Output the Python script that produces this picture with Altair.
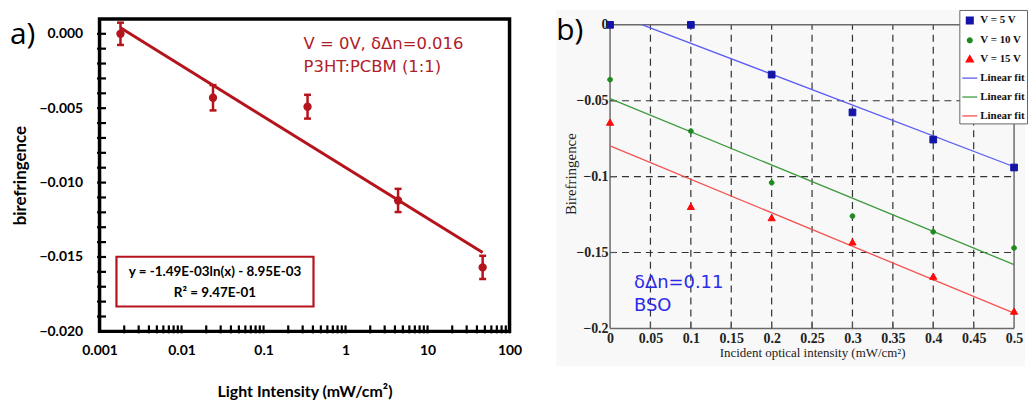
import altair as alt
import pandas as pd

# ---------------- panel a data ----------------
a_intensity = [0.0018, 0.0242, 0.344, 4.37, 47.0]
a_biref = [0.0000, -0.0043, -0.0049, -0.0112, -0.0157]
a_err = [0.00075, 0.00085, 0.0008, 0.00078, 0.00078]
a_fit_x = [0.0018, 47.0]
a_fit_y = [0.0004, -0.0147]
a_x_labels = [0.001, 0.01, 0.1, 1, 10, 100]
a_y_labels = [0.0, -0.005, -0.010, -0.015, -0.020]
a_x_minor = [m * d for d in [0.001, 0.01, 0.1, 1, 10] for m in range(2, 11)]
a_y_minor = [i / 1000 for i in range(-19, 1)]
a_note = ["V = 0V, δΔn=0.016", "P3HT:PCBM (1:1)"]
a_fit_text = ["y = -1.49E-03ln(x) - 8.95E-03", "R² = 9.47E-01"]

# ---------------- panel b data ----------------
b_intensity = [0, 0.1, 0.2, 0.3, 0.4, 0.5]
b_5v = [0.0, 0.0, -0.0328, -0.0577, -0.0756, -0.094]
b_10v = [-0.0361, -0.070, -0.104, -0.126, -0.1364, -0.147]
b_15v = [-0.0645, -0.120, -0.1274, -0.1434, -0.166, -0.189]
b_fit5_x = [0.04, 0.5]
b_fit5_y = [0.0, -0.0935]
b_fit10_x = [0.0, 0.5]
b_fit10_y = [-0.0486, -0.158]
b_fit15_x = [0.0, 0.5]
b_fit15_y = [-0.0797, -0.190]
b_series = ["V = 5 V", "V = 10 V", "V = 15 V"]
b_fit_series = ["fit 5 V", "fit 10 V", "fit 15 V"]
b_x_labels = [0, 0.05, 0.1, 0.15, 0.2, 0.25, 0.3, 0.35, 0.4, 0.45, 0.5]
b_y_labels = [0, -0.05, -0.1, -0.15, -0.2]
b_note = ["δΔn=0.11", "BSO"]

RED = "#B5141C"
RED_TXT = "#B0202A"
BLUE_TXT = "#2B2BE8"

# ================= panel a =================
WA, HA = 412, 314
xa_scale = alt.Scale(type="log", domain=[0.001, 100], nice=False)
ya_scale = alt.Scale(domain=[-0.020, 0.001], nice=False, zero=False)
xa_axis = alt.Axis(values=a_x_labels, format="~g", labelFlush=False, grid=False,
                   domain=False, ticks=False, tickSize=0, labelPadding=12,
                   labelFont="Lato", labelFontSize=14, labelFontWeight="bold",
                   labelColor="black", title="Light Intensity (mW/cm²)",
                   titleFont="Lato", titleFontSize=16, titleFontWeight="bold",
                   titleColor="black", titlePadding=26)
ya_axis = alt.Axis(values=a_y_labels, format=".3f", labelFlush=False, grid=False,
                   domain=False, ticks=False, tickSize=0, labelPadding=17,
                   labelFont="Lato", labelFontSize=14, labelFontWeight="bold",
                   labelColor="black", title="birefringence",
                   titleFont="Lato", titleFontSize=17, titleFontWeight="bold",
                   titleColor="black", titlePadding=9)


def xa(field="x"):
    return alt.X(f"{field}:Q", scale=xa_scale, axis=xa_axis)


def ya(field="y"):
    return alt.Y(f"{field}:Q", scale=ya_scale, axis=ya_axis)


pts_a = pd.DataFrame({"x": a_intensity, "y": a_biref, "e": a_err})
pts_a["lo"] = pts_a["y"] - pts_a["e"]
pts_a["hi"] = pts_a["y"] + pts_a["e"]
fit_a = pd.DataFrame({"x": a_fit_x, "y": a_fit_y})
minor_xa = pd.DataFrame({"x": a_x_minor})
minor_ya = pd.DataFrame({"y": a_y_minor})
one = pd.DataFrame({"k": [0]})

a_fit_line = alt.Chart(fit_a).mark_line(color=RED, strokeWidth=3).encode(x=xa(), y=ya())
a_err_rule = alt.Chart(pts_a).mark_rule(color=RED, strokeWidth=2.5).encode(
    x=xa(), y=ya("lo"), y2="hi:Q")
a_cap_lo = alt.Chart(pts_a).mark_tick(orient="horizontal", color=RED, size=7,
                                      thickness=2.5, opacity=1).encode(x=xa(), y=ya("lo"))
a_cap_hi = alt.Chart(pts_a).mark_tick(orient="horizontal", color=RED, size=7,
                                      thickness=2.5, opacity=1).encode(x=xa(), y=ya("hi"))
a_points = alt.Chart(pts_a).mark_circle(color=RED, size=70, opacity=1).encode(x=xa(), y=ya())
a_tick_y = alt.Chart(minor_ya).mark_tick(orient="horizontal", color="black", size=9,
                                         thickness=2.2, opacity=1).encode(
    y=ya(), x=alt.value(2))
a_tick_x = alt.Chart(minor_xa).mark_tick(orient="vertical", color="black", size=8,
                                         thickness=2.2, opacity=1).encode(
    x=xa(), y=alt.value(HA - 2))
a_box = alt.Chart(one).mark_rect(fill="white", stroke=RED, strokeWidth=2.2).encode(
    x=alt.value(17), x2=alt.value(215), y=alt.value(239), y2=alt.value(289))
a_box_t1 = alt.Chart(one).mark_text(text=a_fit_text[0], font="Lato", fontSize=13.5,
                                    fontWeight="bold", color="black", align="center",
                                    baseline="middle").encode(
    x=alt.value(116), y=alt.value(254))
a_box_t2 = alt.Chart(one).mark_text(text=a_fit_text[1], font="Lato", fontSize=13.5,
                                    fontWeight="bold", color="black", align="center",
                                    baseline="middle").encode(
    x=alt.value(116), y=alt.value(275))
a_note1 = alt.Chart(one).mark_text(text=a_note[0], font="DejaVu Sans", fontSize=16.5,
                                   color=RED_TXT, align="left", baseline="middle").encode(
    x=alt.value(205), y=alt.value(25))
a_note2 = alt.Chart(one).mark_text(text=a_note[1], font="DejaVu Sans", fontSize=16.5,
                                   color=RED_TXT, align="left", baseline="middle").encode(
    x=alt.value(205), y=alt.value(48))
a_label = alt.Chart(one).mark_text(text="a)", font="Open Sans", fontSize=30,
                                   color="black", align="left", baseline="middle").encode(
    x=alt.value(-90), y=alt.value(16))

panel_a = alt.layer(
    a_fit_line, a_err_rule, a_cap_lo, a_cap_hi, a_points, a_tick_y, a_tick_x,
    a_box, a_box_t1, a_box_t2, a_note1, a_note2, a_label
).properties(width=WA, height=HA,
             view=alt.ViewBackground(stroke="black", strokeWidth=3.5))

# ================= panel b =================
WB, HB = 406, 311
SERIF = "Liberation Serif"
xb_scale = alt.Scale(domain=[0, 0.5], nice=False, zero=False)
yb_scale = alt.Scale(domain=[-0.2, 0.0039], nice=False, zero=False)
xb_axis = alt.Axis(values=b_x_labels, format="~g", labelFlush=False, grid=False,
                   domain=False, ticks=False, tickSize=0, labelPadding=3,
                   labelFont=SERIF, labelFontSize=14, labelFontWeight="bold",
                   labelColor="#222", title="Incident optical intensity (mW/cm²)",
                   titleFont=SERIF, titleFontSize=13, titleFontWeight="normal",
                   titleColor="#222", titlePadding=1, zindex=1)
yb_axis = alt.Axis(values=b_y_labels, format="~g", labelFlush=False, grid=False,
                   domain=False, ticks=False, tickSize=0, labelPadding=2,
                   labelFont=SERIF, labelFontSize=14, labelFontWeight="bold",
                   labelColor="#222", title="Birefringence",
                   titleFont=SERIF, titleFontSize=15, titleFontWeight="normal",
                   titleColor="#222", titlePadding=-3, zindex=1)


def xb(field="x"):
    return alt.X(f"{field}:Q", scale=xb_scale, axis=xb_axis)


def yb(field="y"):
    return alt.Y(f"{field}:Q", scale=yb_scale, axis=yb_axis)


rows = []
for s, ys in zip(b_series, [b_5v, b_10v, b_15v]):
    for xv, yv in zip(b_intensity, ys):
        rows.append({"x": xv, "y": yv, "series": s})
pts_b = pd.DataFrame(rows)
frows = []
for s, fx, fy in zip(b_fit_series, [b_fit5_x, b_fit10_x, b_fit15_x],
                     [b_fit5_y, b_fit10_y, b_fit15_y]):
    for xv, yv in zip(fx, fy):
        frows.append({"x": xv, "y": yv, "series": s})
fit_b = pd.DataFrame(frows)

# unit-box symbol outlines (Vega scales the [-1, 1] box by the symbol size)
SYM_SQUARE = "M-0.45,-0.45H0.45V0.45H-0.45Z"
SYM_DOT = "M0.32,0A0.32,0.32 0 1,1 -0.32,0A0.32,0.32 0 1,1 0.32,0Z"
SYM_TRI = "M0,-0.5L0.48,0.34L-0.48,0.34Z"
SYM_LINE = "M-1,0H1"
SYM_SIZE = 225

legend_domain = b_series + b_fit_series
legend = alt.Legend(
    orient="none", legendX=351, legendY=-9, title=None,
    labelExpr="indexof(datum.label, 'fit') == 0 ? 'Linear fit' : datum.label",
    labelFont=SERIF, labelFontSize=11, labelFontWeight="bold", labelColor="#111",
    labelOffset=2, labelLimit=300, fillColor="white", strokeColor="#666",
    padding=2, rowPadding=5, symbolStrokeWidth=1.3, symbolSize=SYM_SIZE)
b_colors = ["#1414A8", "#1E8A1E", "#FF0A0A", "#5A5AF5", "#3C9A3C", "#F55050"]
color_enc = alt.Color("series:N", scale=alt.Scale(domain=legend_domain, range=b_colors),
                      legend=legend)
fill_enc = alt.Fill("series:N", scale=alt.Scale(domain=legend_domain, range=b_colors),
                    legend=legend)
shape_enc = alt.Shape("series:N", scale=alt.Scale(
    domain=legend_domain,
    range=[SYM_SQUARE, SYM_DOT, SYM_TRI, SYM_LINE, SYM_LINE, SYM_LINE]),
    legend=legend)

grid_vx = pd.DataFrame({"x": b_x_labels[1:-1]})
grid_hy = pd.DataFrame({"y": b_y_labels[1:-1]})
xr, yr = [b_x_labels[0], b_x_labels[-1]], [b_y_labels[-1], b_y_labels[0]]
frame_b = pd.DataFrame({
    "x": [xr[0], xr[1], xr[0], xr[0]],
    "x2": [xr[0], xr[1], xr[1], xr[1]],
    "y": [yr[0], yr[0], yr[1], yr[0]],
    "y2": [yr[1], yr[1], yr[1], yr[0]],
})

b_bg = alt.Chart(one).mark_rect(fill="#f8f8f8").encode(
    x=alt.value(-54), x2=alt.value(WB + 11), y=alt.value(-9), y2=alt.value(349))
b_grid_v = alt.Chart(grid_vx).mark_rule(color="#333", strokeWidth=1.2, strokeDash=[7, 5]).encode(
    x=xb(), y=alt.datum(yr[0], scale=yb_scale), y2=alt.datum(yr[1]))
b_grid_h = alt.Chart(grid_hy).mark_rule(color="#333", strokeWidth=1.2, strokeDash=[7, 5]).encode(
    y=yb(), x=alt.datum(xr[0], scale=xb_scale), x2=alt.datum(xr[1]))
b_frame = alt.Chart(frame_b).mark_rule(color="#6a6a6a", strokeWidth=1.5).encode(
    x=xb(), x2="x2:Q", y=yb(), y2="y2:Q")
b_tick_x = alt.Chart(grid_vx).mark_tick(orient="vertical", color="#555", size=6,
                                        thickness=1.2, opacity=1).encode(
    x=xb(), y=alt.value(HB - 3))
b_tick_y = alt.Chart(grid_hy).mark_tick(orient="horizontal", color="#555", size=6,
                                        thickness=1.2, opacity=1).encode(
    y=yb(), x=alt.value(3))
b_lines = alt.Chart(fit_b).mark_line(strokeWidth=1.3).encode(
    x=xb(), y=yb(), color=color_enc)
b_points = alt.Chart(pts_b).mark_point(filled=False, strokeWidth=1, opacity=1,
                                       fillOpacity=1, size=SYM_SIZE).encode(
    x=xb(), y=yb(), color=color_enc, fill=fill_enc, shape=shape_enc)
b_note1 = alt.Chart(one).mark_text(text=b_note[0], font="DejaVu Sans", fontSize=18,
                                   color=BLUE_TXT, align="left", baseline="middle").encode(
    x=alt.value(24), y=alt.value(265))
b_note2 = alt.Chart(one).mark_text(text=b_note[1], font="DejaVu Sans", fontSize=18,
                                   color=BLUE_TXT, align="left", baseline="middle").encode(
    x=alt.value(24), y=alt.value(289))
b_label = alt.Chart(one).mark_text(text="b)", font="Open Sans", fontSize=30,
                                   color="black", align="left", baseline="middle").encode(
    x=alt.value(-54), y=alt.value(12))

panel_b = alt.layer(
    b_bg, b_grid_v, b_grid_h, b_frame, b_tick_x, b_tick_y, b_lines, b_points,
    b_note1, b_note2, b_label
).properties(width=WB, height=HB,
             view=alt.ViewBackground(stroke="transparent"))

chart = alt.hconcat(panel_a, panel_b, spacing=32).resolve_scale(
    color="independent", fill="independent", shape="independent"
).properties(
    padding=0, background="white"
).configure_view(stroke="transparent")

chart.save("out.html", embed_options={"renderer": "svg", "actions": False})
